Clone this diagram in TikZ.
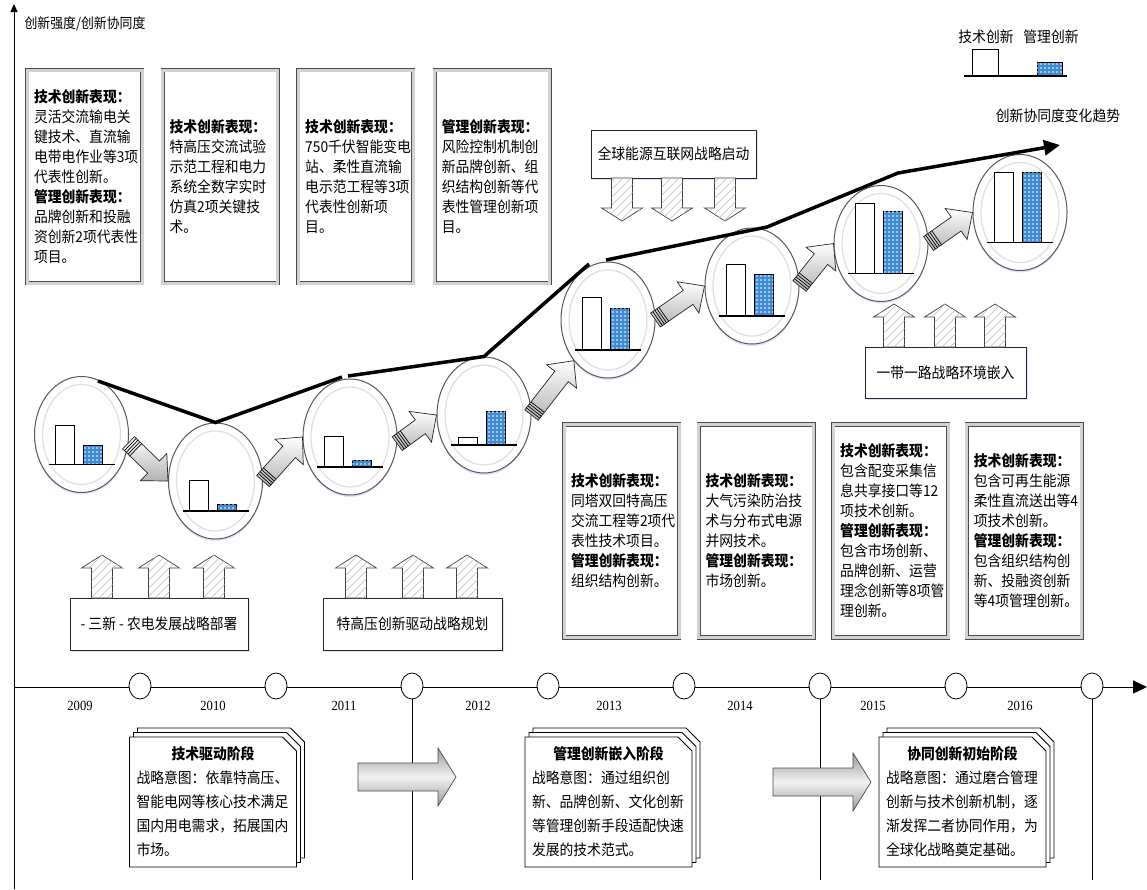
\documentclass[tikz,border=0pt]{standalone}
\usepackage{fontspec}
\setmainfont[FakeStretch=0.92]{Noto Sans CJK SC}
\newfontfamily\yearfont[FakeStretch=0.9]{Liberation Serif}
\usetikzlibrary{positioning, shapes.geometric, shapes.misc, shadows, patterns, arrows.meta, calc}

\definecolor{barblue}{HTML}{3F8BD6}
\pgfdeclarepatternformonly{whitedots}{\pgfqpoint{-1pt}{-1pt}}{\pgfqpoint{3pt}{3pt}}{\pgfqpoint{4pt}{4pt}}{%
    \pgfpathcircle{\pgfqpoint{1pt}{1pt}}{0.85pt}\pgfusepath{fill}}
\pgfdeclarepatternformonly{widehatch}{\pgfqpoint{-1pt}{-1pt}}{\pgfqpoint{9pt}{9pt}}{\pgfqpoint{8pt}{8pt}}{%
    \pgfsetlinewidth{0.5pt}\pgfpathmoveto{\pgfqpoint{0pt}{0pt}}\pgfpathlineto{\pgfqpoint{8.1pt}{8.1pt}}\pgfusepath{stroke}}

\tikzset{
    x=1pt, y=-1pt, % pixel-like units, y grows downwards
    every node/.style={font=\fontsize{15}{20}\selectfont},
    infobox/.style={draw=black!70, line width=0.6pt, double=gray!35, double distance=3pt, fill=white,
        minimum width=115, minimum height=213, text width=101, inner sep=7pt, align=left,
        drop shadow={shadow xshift=2pt, shadow yshift=-2pt, fill=blue!30, opacity=.35}}, % the tall text boxes
    stagebox/.style={chamfered rectangle, chamfered rectangle corners=north east,
        chamfered rectangle xsep=7pt, chamfered rectangle ysep=7pt, draw, thick, fill=white,
        minimum width=166, minimum height=130, text width=153, inner xsep=0pt, inner ysep=2pt, align=left,
        font=\fontsize{15}{24}\selectfont,
        double copy shadow={shadow xshift=4pt, shadow yshift=4.5pt}}, % stacked sheets
    stratbox/.style={draw=black!85, line width=1pt, fill=white, inner sep=0pt,
        drop shadow={shadow xshift=1.5pt, shadow yshift=-1.5pt, fill=blue!30, opacity=.4}},
    bubble/.style={ellipse, draw=black!65, line width=1pt, fill=white, inner sep=0pt,
        minimum width=94, minimum height=116,
        drop shadow={shadow xshift=0pt, shadow yshift=-2pt, fill=blue!25, opacity=.5}},
    yearmark/.style={ellipse, draw, thick, fill=white, minimum width=22, minimum height=26, inner sep=0pt},
    yearlabel/.style={font=\yearfont\fontsize{14}{14}\selectfont},
    techbar/.style={draw=black, line width=0.8pt, fill=white},
    mgmtbar/.style={draw=black, line width=0.8pt, fill=barblue, postaction={pattern=whitedots, pattern color=white}},
    flowarrow/.style={draw=black!85, line width=0.7pt, top color=white, bottom color=gray!60},
    trend/.style={line width=3.5pt},
    hatcharrow/.pic={
        \draw[black!75, line width=0.7pt, fill=white, postaction={pattern=widehatch, pattern color=gray!55}]
            (-10.5,0) -- (-10.5,-30) -- (-20.5,-30) -- (0,-43) -- (20.5,-30) -- (10.5,-30) -- (10.5,0) -- cycle;
    },
    stagearrow/.pic={
        \shade[draw=black!70, line width=0.7pt, top color=gray!80, bottom color=gray!80, middle color=gray!10]
            (0,-14) -- (80,-14) -- (80,-29) -- (98,0) -- (80,29) -- (80,14) -- (0,14) -- cycle;
    },
}

% fat shaded arrow from one anchor to another
\newcommand{\bigflow}[2]{%
    \path let \p1=(#1), \p2=(#2) in
        \pgfextra{\pgfmathsetmacro{\flang}{atan2(\y2-\y1,\x2-\x1)}\global\let\flang\flang
                  \pgfmathsetmacro{\fllen}{veclen(\x2-\x1,\y2-\y1)}\global\let\fllen\fllen};
    \begin{scope}[shift={(#1)}, rotate=\flang]
        \shade[flowarrow] (0,-8.5) -- ({\fllen-20},-8.5) -- ({\fllen-20},-19) -- (\fllen,0)
            -- ({\fllen-20},19) -- ({\fllen-20},8.5) -- (0,8.5) -- cycle;
        \foreach \k in {2.5,5,7.5,10} \draw[line width=0.7pt] (\k,-8.5) -- (\k,8.5);
    \end{scope}
}

\begin{document}
\begin{tikzpicture}
    \useasboundingbox (0,0) rectangle (1147,889);

    % axes
    \draw[line width=1pt, -{Triangle[length=8pt,width=7pt]}] (14,889) -- (14,4);
    \node[anchor=west, font=\fontsize{14}{14}\selectfont] (ylabel) at (21,24) {创新强度/创新协同度};
    \draw[line width=1pt, -{Triangle[length=14pt,width=13pt]}] (14,687) -- (1147,687);
    \foreach \i in {0,...,7}
        \node[yearmark] (t\i) at ({140+136*\i},686) {};
    \foreach \i in {2,5,7}
        \draw[line width=0.8pt] (t\i.south) -- ++(0,181);
    \foreach \yr/\xx in {2009/80, 2010/213, 2011/344, 2012/478, 2013/609, 2014/740, 2015/873, 2016/1020}
        \node[yearlabel] (y\yr) at (\xx,706) {\yr};

    % legend
    \node (legtech) at (986,37) {技术创新};
    \node (legmgmt) at (1051,37) {管理创新};
    \draw[techbar] (972,76) rectangle (998,49);
    \draw[mgmtbar] (1037,76) rectangle (1062,62);
    \draw[line width=1.5pt] (964,76) -- (1067,76);

    % top text boxes
    \node[infobox] (tb1) at (84.5,176.5) {\textbf{技术创新表现：}\\灵活交流输电关\\键技术、直流输\\电带电作业等3项\\代表性创新。\\\textbf{管理创新表现：}\\品牌创新和投融\\资创新2项代表性\\项目。};
    \node[infobox, right=20pt of tb1] (tb2) {\textbf{技术创新表现：}\\特高压交流试验\\示范工程和电力\\系统全数字实时\\仿真2项关键技\\术。};
    \node[infobox, right=20pt of tb2] (tb3) {\textbf{技术创新表现：}\\750千伏智能变电\\站、柔性直流输\\电示范工程等3项\\代表性创新项\\目。};
    \node[infobox, right=21pt of tb3] (tb4) {\textbf{管理创新表现：}\\风险控制机制创\\新品牌创新、组\\织结构创新等代\\表性管理创新项\\目。};

    % lower text boxes
    \node[infobox] (bb1) at (621.5,531) {\textbf{技术创新表现：}\\同塔双回特高压\\交流工程等2项代\\表性技术项目。\\\textbf{管理创新表现：}\\组织结构创新。};
    \node[infobox, right=19pt of bb1] (bb2) {\textbf{技术创新表现：}\\大气污染防治技\\术与分布式电源\\并网技术。\\\textbf{管理创新表现：}\\市场创新。};
    \node[infobox, right=19pt of bb2] (bb3) {\textbf{技术创新表现：}\\包含配变采集信\\息共享接口等12\\项技术创新。\\\textbf{管理创新表现：}\\包含市场创新、\\品牌创新、运营\\理念创新等8项管\\理创新。};
    \node[infobox, right=18pt of bb3] (bb4) {\textbf{技术创新表现：}\\包含可再生能源\\柔性直流送出等4\\项技术创新。\\\textbf{管理创新表现：}\\包含组织结构创\\新、投融资创新\\等4项管理创新。};

    % strategy boxes with hatched arrows
    \node[stratbox, minimum width=178, minimum height=52] (sanxin) at (159,624) {- 三新 - 农电发展战略部署};
    \node[stratbox, minimum width=179, minimum height=52] (tegaoya) at (412.5,624) {特高压创新驱动战略规划};
    \node[stratbox, minimum width=161, minimum height=51] (ydyl) at (945.5,372.5) {一带一路战略环境嵌入};
    \node[stratbox, minimum width=165, minimum height=48] (nengyuan) at (673.5,154) {全球能源互联网战略启动};
    \foreach \xx in {102,159,214,356,413,467}
        \pic at (\xx,598) {hatcharrow};
    \foreach \xx in {894,945,995}
        \pic at (\xx,347) {hatcharrow};
    \foreach \xx in {622,672,725}
        \pic[rotate=180] at (\xx,178) {hatcharrow};

    % bubbles with bar charts
    \foreach \i/\cx/\cy/\ht/\hm in {1/81.5/434.5/39/19, 2/215.5/481/31/7, 3/350/437/31/7, 4/484/415/8/34,
                                    5/608/320/53/42, 6/752/286/52/42, 7/881/243.5/70/62, 8/1020/212.5/70/70} {
        \node[bubble] (c\i) at (\cx,\cy) {};
        \draw[gray!25, line width=1.2pt] (c\i.center) ellipse [x radius=39, y radius=50];
        \draw[techbar] ({\cx-26},{\cy+30}) rectangle ({\cx-7},{\cy+30-\ht});
        \draw[mgmtbar] ({\cx+2},{\cy+30}) rectangle ({\cx+21},{\cy+30-\hm});
        \draw[line width=1.5pt] ({\cx-33},{\cy+30}) -- ({\cx+33},{\cy+30});
    }
    \bigflow{c1.-10}{c2.west}
    \bigflow{c2.east}{c3.west}
    \bigflow{c3.-8}{c4.west}
    \bigflow{c4.east}{c5.230}
    \bigflow{c5.east}{c6.west}
    \bigflow{c6.east}{c7.west}
    \bigflow{c7.east}{c8.west}

    % trend of innovation synergy
    \draw[trend] (98,381) -- (c2.north) -- (342,377);
    \draw[trend] (348,376) -- (c4.north) -- (589,264);
    \draw[trend, -{Triangle[length=16pt,width=15pt]}] (606,260) -- (767,227) -- (898,173) -- (1060,145);
    \node (trendlabel) at (1058,116) {创新协同度变化趋势};

    % stages
    \node[stagebox] (s1) at (213,802) {\makebox[\hsize]{\bfseries 技术驱动阶段}\\战略意图：依靠特高压、\\智能电网等核心技术满足\\国内用电需求，拓展国内\\市场。};
    \node[stagebox] (s2) at (608.5,802) {\makebox[\hsize]{\bfseries 管理创新嵌入阶段}\\战略意图：通过组织创\\新、品牌创新、文化创新\\等管理创新手段适配快速\\发展的技术范式。};
    \node[stagebox] (s3) at (962.5,802) {\makebox[\hsize]{\bfseries 协同创新初始阶段}\\战略意图：通过磨合管理\\创新与技术创新机制，逐\\渐发挥二者协同作用，为\\全球化战略奠定基础。};
    \pic at (358,777) {stagearrow};
    \pic at (773,782) {stagearrow};
\end{tikzpicture}
\end{document}
